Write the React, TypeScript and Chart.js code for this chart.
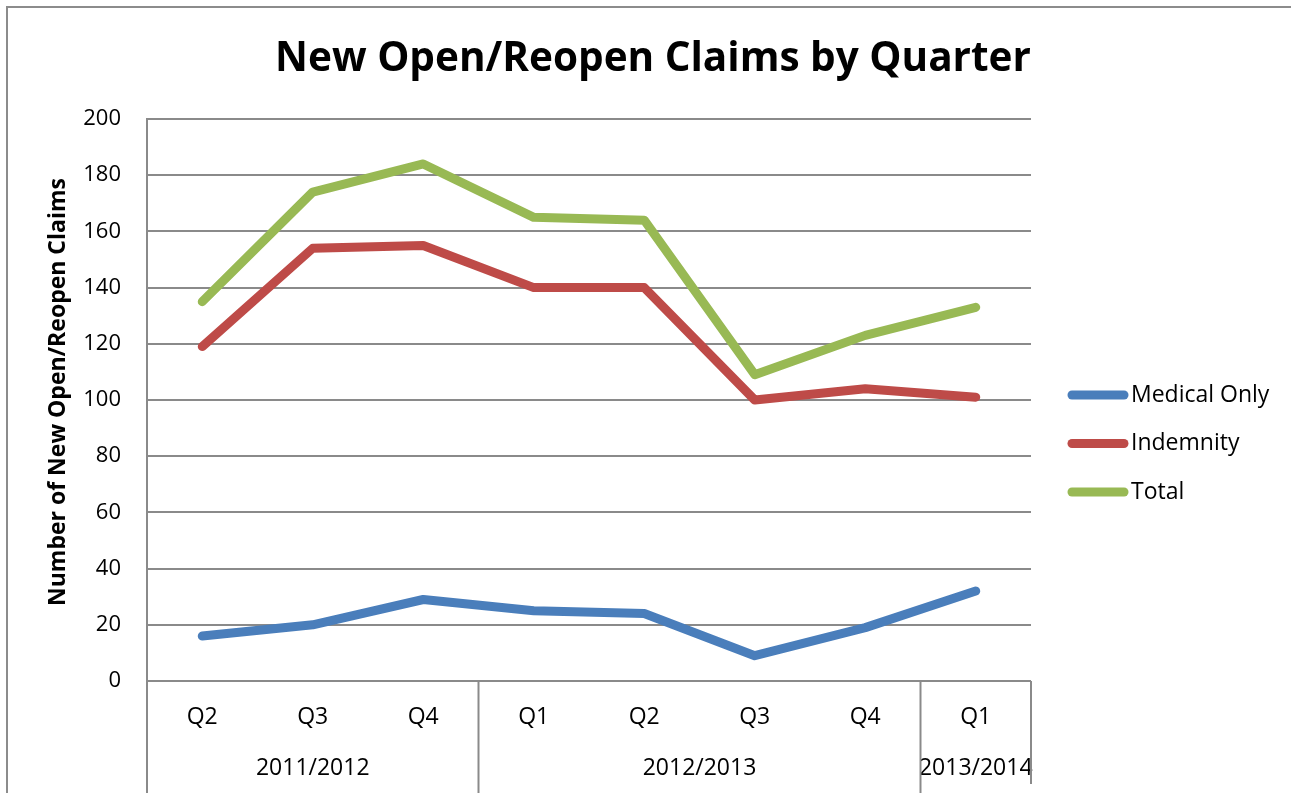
import React, { useEffect, useRef } from "react";
import { Chart, registerables } from "chart.js";

Chart.register(...registerables);

const chartTitle = "New Open/Reopen Claims by Quarter";
const yAxisTitle = "Number of New Open/Reopen Claims";
const quarters = ["Q2", "Q3", "Q4", "Q1", "Q2", "Q3", "Q4", "Q1"];
const fiscalYears = ["2011/2012", "2012/2013", "2013/2014"];
const quartersPerYear = [3, 4, 1];
const seriesNames = ["Medical Only", "Indemnity", "Total"];
const medicalOnly = [16, 20, 29, 25, 24, 9, 19, 32];
const indemnity = [119, 154, 155, 140, 140, 100, 104, 101];
const total = [135, 174, 184, 165, 164, 109, 123, 133];
const seriesColors = ["#4a7ebb", "#be4b48", "#98b954"];
const yMin = 0;
const yMax = 200;
const yStep = 20;

const FONT = '"Open Sans", "Liberation Sans", sans-serif';
const GRID = "#8a8a8a";

const decorPlugin = {
  id: "decor",
  beforeDraw(chart: any) {
    const ctx = chart.ctx;
    ctx.save();
    ctx.fillStyle = "#ffffff";
    ctx.fillRect(0, 0, chart.width, chart.height);
    ctx.restore();
  },
  afterDraw(chart: any) {
    const ctx = chart.ctx;
    const a = chart.chartArea;
    const x = chart.scales.x;
    ctx.save();
    // outer frame
    ctx.strokeStyle = "#8c8c8c";
    ctx.lineWidth = 2;
    ctx.beginPath();
    ctx.moveTo(7, chart.height + 5);
    ctx.lineTo(7, 7);
    ctx.lineTo(chart.width + 5, 7);
    ctx.stroke();

    // title
    ctx.fillStyle = "#000";
    ctx.textAlign = "center";
    ctx.textBaseline = "middle";
    ctx.font = `bold 40.5px ${FONT}`;
    ctx.fillText(chartTitle, 653, 59);

    // y axis title
    ctx.save();
    ctx.translate(58, 392);
    ctx.rotate(-Math.PI / 2);
    ctx.font = `bold 23px ${FONT}`;
    ctx.fillText(yAxisTitle, 0, 0);
    ctx.restore();

    // group separators and year labels
    ctx.strokeStyle = GRID;
    ctx.lineWidth = 2;
    const bounds: number[] = [a.left];
    let idx = 0;
    quartersPerYear.forEach((n, gi) => {
      const first = idx;
      const last = idx + n - 1;
      idx += n;
      const right =
        idx < quarters.length
          ? (x.getPixelForValue(last) + x.getPixelForValue(idx)) / 2
          : a.right;
      bounds.push(right);
      const cx = (x.getPixelForValue(first) + x.getPixelForValue(last)) / 2;
      ctx.font = `23px ${FONT}`;
      ctx.fillText(fiscalYears[gi], cx, 768);
    });
    bounds.forEach((bx, i) => {
      ctx.beginPath();
      ctx.moveTo(bx, a.bottom);
      ctx.lineTo(bx, i === bounds.length - 1 ? 784 : chart.height);
      ctx.stroke();
    });

    // legend
    ctx.textAlign = "left";
    ctx.font = `23px ${FONT}`;
    seriesNames.forEach((name, i) => {
      const ly = 395 + i * 48.5;
      ctx.strokeStyle = seriesColors[i];
      ctx.lineWidth = 9;
      ctx.lineCap = "round";
      ctx.beginPath();
      ctx.moveTo(1072, ly);
      ctx.lineTo(1124, ly);
      ctx.stroke();
      ctx.fillStyle = "#000";
      ctx.fillText(name, 1131, ly);
    });
    ctx.restore();
  },
};

export default function App() {
  const ref = useRef<HTMLCanvasElement | null>(null);
  useEffect(() => {
    if (!ref.current) return;
    const seriesData = [medicalOnly, indemnity, total];
    const chart = new Chart(ref.current, {
      type: "line",
      data: {
        labels: quarters,
        datasets: seriesNames.map((name, i) => ({
          label: name,
          data: seriesData[i],
          borderColor: seriesColors[i],
          backgroundColor: seriesColors[i],
          borderWidth: 9,
          pointRadius: 0,
          tension: 0,
          borderCapStyle: "round" as const,
          borderJoinStyle: "round" as const,
        })),
      },
      options: {
        responsive: false,
        animation: false,
        devicePixelRatio: 1,
        layout: { padding: { top: 119, right: 260, left: 0, bottom: 0 } },
        plugins: {
          legend: { display: false },
          title: { display: false },
          tooltip: { enabled: false },
        },
        scales: {
          x: {
            offset: true,
            grid: { display: false, drawTicks: false },
            border: { display: false },
            ticks: { color: "#000", font: { family: FONT, size: 23 }, padding: 23, maxRotation: 0 },
            afterFit: (s: any) => {
              s.height = 112;
            },
          },
          y: {
            min: yMin,
            max: yMax,
            ticks: { stepSize: yStep, color: "#000", font: { family: FONT, size: 22 }, padding: 26 },
            grid: { color: GRID, lineWidth: 2, drawTicks: false },
            border: { color: GRID, width: 2 },
            afterFit: (s: any) => {
              s.width = 147;
            },
          },
        },
      },
      plugins: [decorPlugin],
    });
    return () => chart.destroy();
  }, []);
  return (
    <div style={{ position: "fixed", left: 0, top: 0, width: 1291, height: 793, background: "#fff" }}>
      <canvas ref={ref} width={1291} height={793} style={{ width: 1291, height: 793, display: "block" }} />
    </div>
  );
}
